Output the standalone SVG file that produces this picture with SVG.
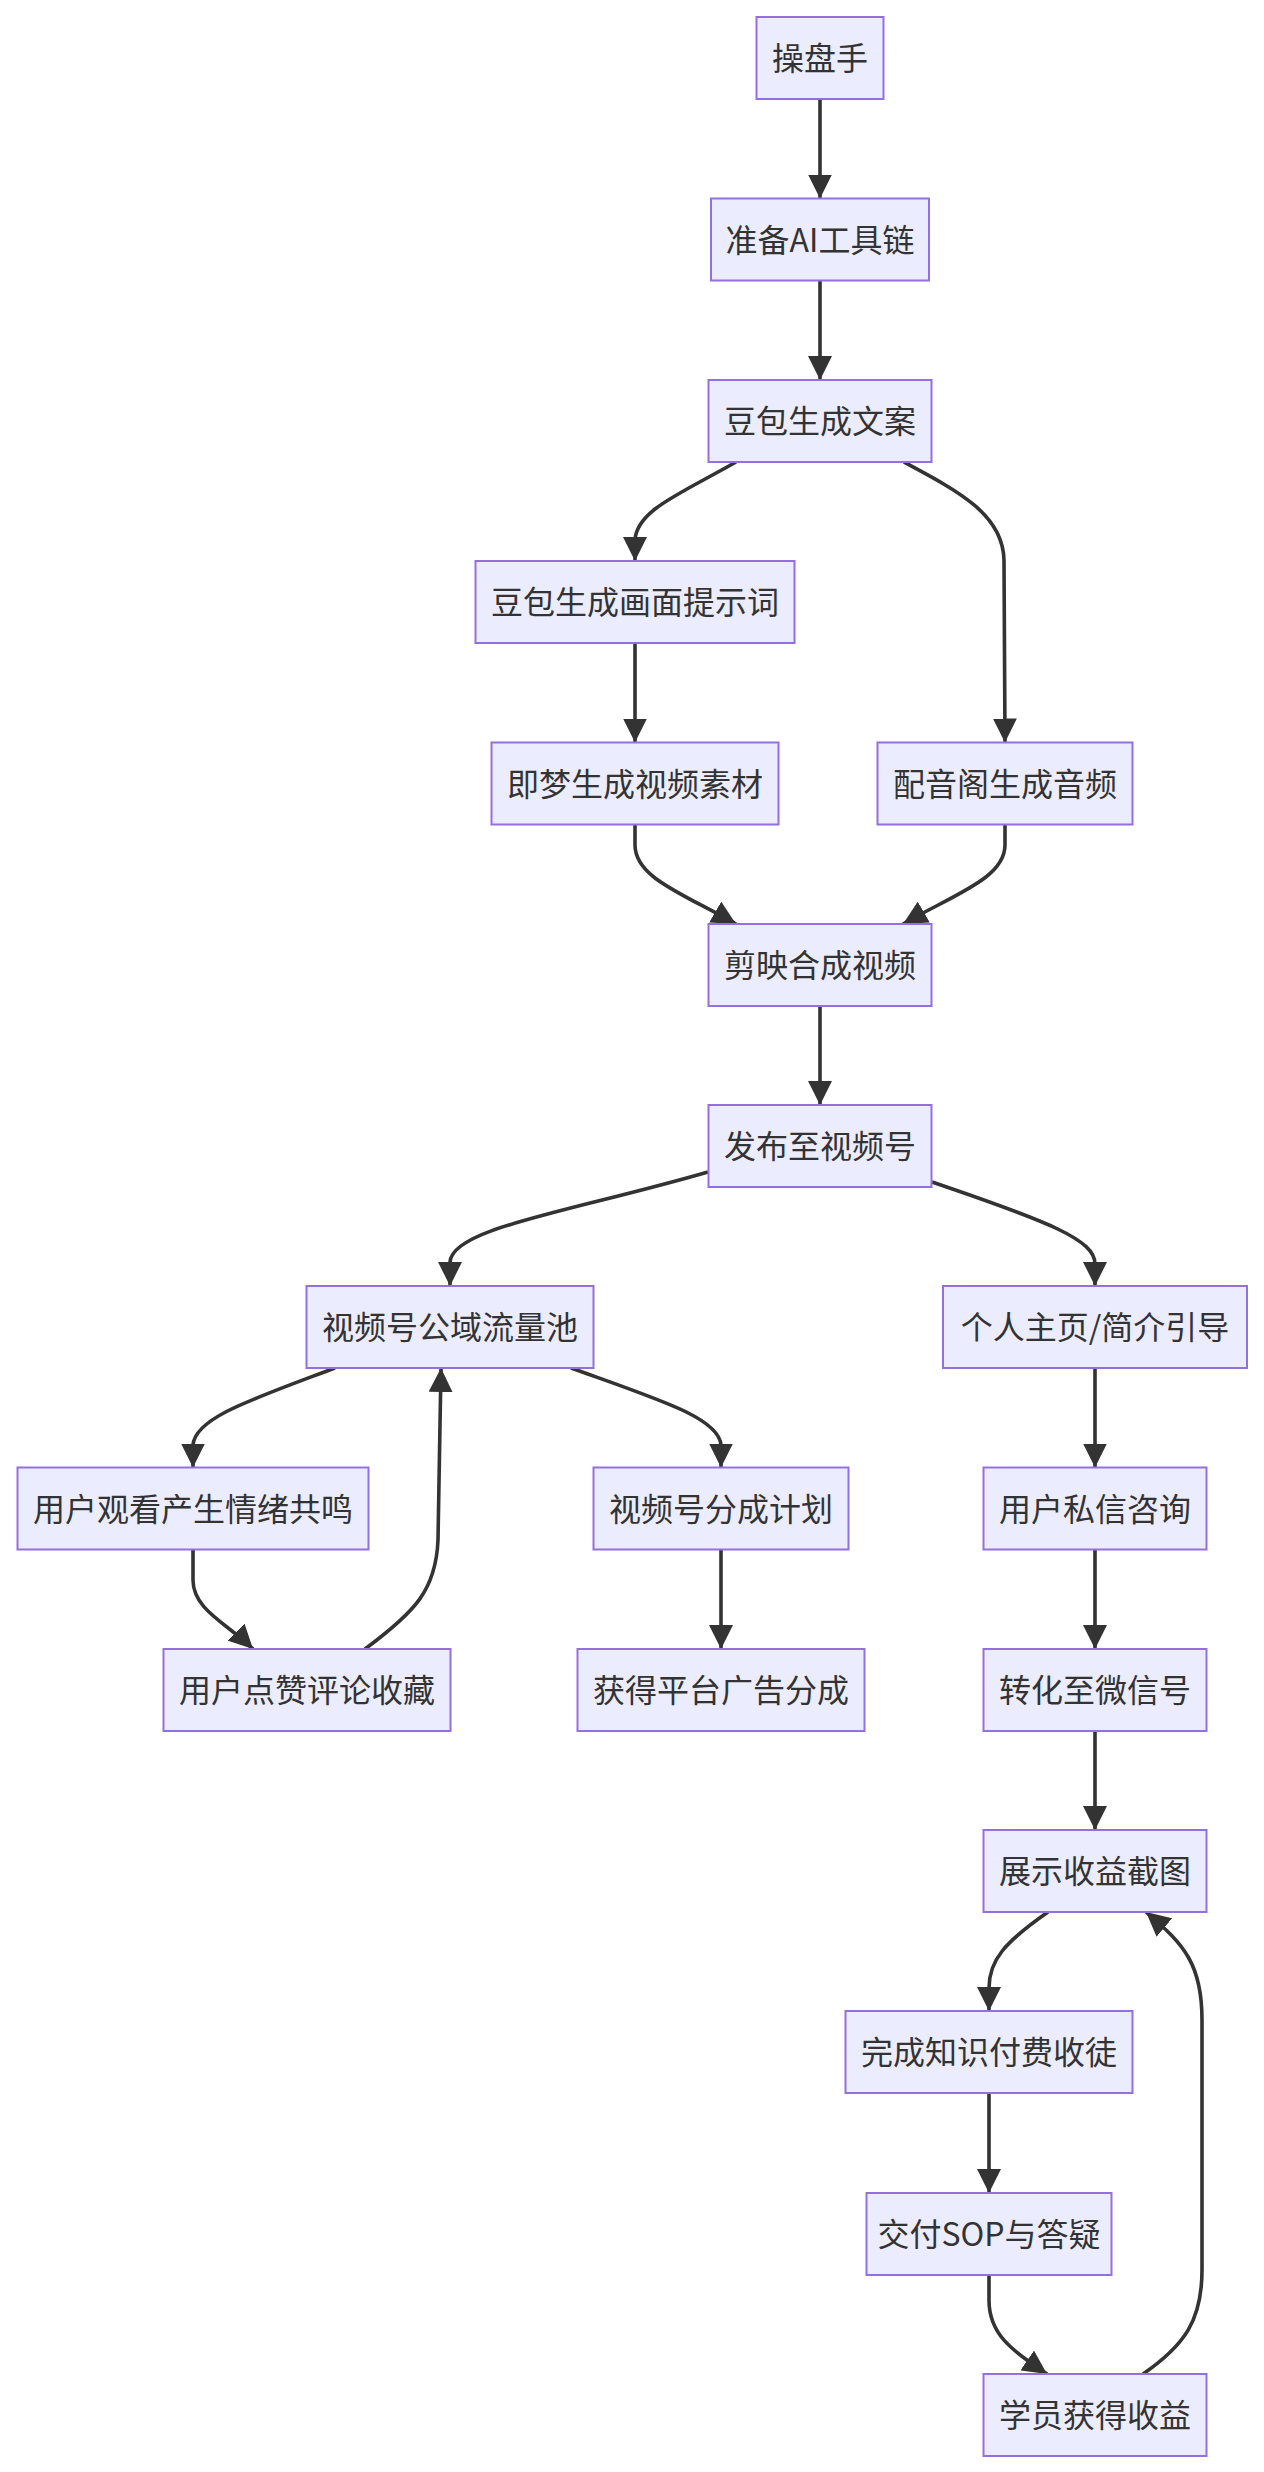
<svg xmlns="http://www.w3.org/2000/svg" width="1264" height="2472" viewBox="0 0 1264 2472">
<defs>
<marker id="arrow" viewBox="0 0 10 10" refX="10" refY="5" markerWidth="24" markerHeight="24" markerUnits="userSpaceOnUse" orient="auto">
<path d="M0,0 L10,5 L0,10 z" fill="#333333"/>
</marker>
<style>
.node rect{fill:#ECECFF;stroke:#9370DB;stroke-width:2}
.node text{font-family:"Noto Sans CJK SC","Noto Sans",sans-serif;font-size:32px;fill:#333333;text-anchor:middle}
.edges path{fill:none;stroke:#333333;stroke-width:3.6;marker-end:url(#arrow)}
</style>
</defs>
<rect width="1264" height="2472" fill="#ffffff"/>
<g class="edges">
<path d="M820,99 L820,198.5"/>
<path d="M820,280.5 L820,380"/>
<path d="M736,462 C680,494 637,510 635,540 L635,561"/>
<path d="M904,462 C960,492 1003,515 1004,560 L1005,742.5"/>
<path d="M635,643 L635,742.5"/>
<path d="M635,824.5 L635,845 C635,878 684,894 736,924"/>
<path d="M1005,824.5 L1005,845 C1005,878 955,894 903,924"/>
<path d="M820,1006 L820,1105"/>
<path d="M708,1172 C570,1212 452,1228 450,1262 L450,1286"/>
<path d="M932,1182 C1050,1222 1095,1240 1095,1264 L1095,1286"/>
<path d="M335,1368 C250,1400 195,1418 193,1445 L193,1467.5"/>
<path d="M571,1368 C660,1400 719,1418 721,1445 L721,1467.5"/>
<path d="M193,1549.5 L193,1580 C193,1610 228,1624 253,1649"/>
<path d="M365,1649 C415,1612 436,1590 438,1540 L441,1368"/>
<path d="M721,1549.5 L721,1649"/>
<path d="M1095,1368 L1095,1467.5"/>
<path d="M1095,1549.5 L1095,1649"/>
<path d="M1095,1731 L1095,1830"/>
<path d="M1048,1912 C1005,1942 989,1960 989,1988 L989,2011"/>
<path d="M989,2093 L989,2193"/>
<path d="M989,2275 L989,2300 C989,2335 1012,2350 1047,2374"/>
<path d="M1143,2374 C1185,2345 1202,2320 1202,2270 L1202,2020 C1202,1965 1185,1945 1146,1912"/>
</g>
<g id="n1" class="node"><rect x="756.5" y="17" width="127" height="82"/><text x="820" y="70">操盘手</text></g>
<g id="n2" class="node"><rect x="711" y="198.5" width="218" height="82"/><text x="820" y="251.5">准备AI工具链</text></g>
<g id="n3" class="node"><rect x="708.5" y="380" width="223" height="82"/><text x="820" y="433">豆包生成文案</text></g>
<g id="n4" class="node"><rect x="475.5" y="561" width="319" height="82"/><text x="635" y="614">豆包生成画面提示词</text></g>
<g id="n5" class="node"><rect x="491.5" y="742.5" width="287" height="82"/><text x="635" y="795.5">即梦生成视频素材</text></g>
<g id="n6" class="node"><rect x="877.5" y="742.5" width="255" height="82"/><text x="1005" y="795.5">配音阁生成音频</text></g>
<g id="n7" class="node"><rect x="708.5" y="924" width="223" height="82"/><text x="820" y="977">剪映合成视频</text></g>
<g id="n8" class="node"><rect x="708.5" y="1105" width="223" height="82"/><text x="820" y="1158">发布至视频号</text></g>
<g id="n9" class="node"><rect x="306.5" y="1286" width="287" height="82"/><text x="450" y="1339">视频号公域流量池</text></g>
<g id="n10" class="node"><rect x="943" y="1286" width="304" height="82"/><text x="1095" y="1339">个人主页/简介引导</text></g>
<g id="n11" class="node"><rect x="17.5" y="1467.5" width="351" height="82"/><text x="193" y="1520.5">用户观看产生情绪共鸣</text></g>
<g id="n12" class="node"><rect x="593.5" y="1467.5" width="255" height="82"/><text x="721" y="1520.5">视频号分成计划</text></g>
<g id="n13" class="node"><rect x="163.5" y="1649" width="287" height="82"/><text x="307" y="1702">用户点赞评论收藏</text></g>
<g id="n14" class="node"><rect x="577.5" y="1649" width="287" height="82"/><text x="721" y="1702">获得平台广告分成</text></g>
<g id="n15" class="node"><rect x="983.5" y="1467.5" width="223" height="82"/><text x="1095" y="1520.5">用户私信咨询</text></g>
<g id="n16" class="node"><rect x="983.5" y="1649" width="223" height="82"/><text x="1095" y="1702">转化至微信号</text></g>
<g id="n17" class="node"><rect x="983.5" y="1830" width="223" height="82"/><text x="1095" y="1883">展示收益截图</text></g>
<g id="n18" class="node"><rect x="845.5" y="2011" width="287" height="82"/><text x="989" y="2064">完成知识付费收徒</text></g>
<g id="n19" class="node"><rect x="866.5" y="2193" width="245" height="82"/><text x="989" y="2246">交付SOP与答疑</text></g>
<g id="n20" class="node"><rect x="983.5" y="2374" width="223" height="82"/><text x="1095" y="2427">学员获得收益</text></g>
</svg>
